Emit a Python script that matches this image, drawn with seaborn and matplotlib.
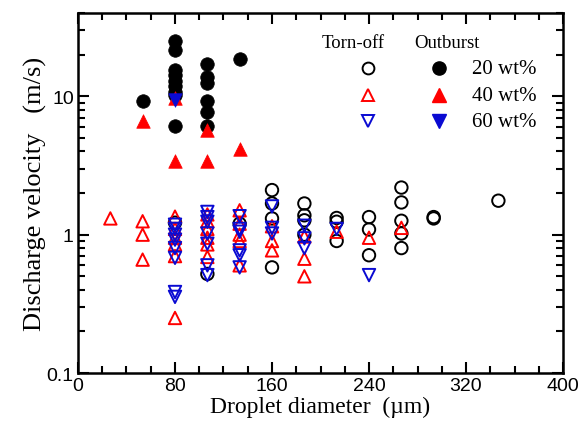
import pandas as pd
import numpy as np
import matplotlib
matplotlib.use("Agg")
import matplotlib.pyplot as plt
from matplotlib.ticker import FixedLocator, LogLocator, NullFormatter
import seaborn as sns

# torn-off (open symbols)
torn20_d = [80, 106.7, 133.3, 160, 160, 160, 160, 186.7, 186.7, 186.7, 186.7,
            213.3, 213.3, 213.3, 240, 240, 240, 266.7, 266.7, 266.7, 266.7, 266.7,
            293.3, 293.3, 346.7]
torn20_v = [1.22, 0.52, 1.2, 2.1, 1.68, 1.31, 0.58, 1.68, 1.38, 1.27, 1.0,
            1.32, 1.24, 0.9, 1.34, 1.09, 0.71, 2.19, 1.71, 1.26, 1.02, 0.8,
            1.34, 1.31, 1.76]

torn40_d = [26.7, 53.3, 53.3, 53.3, 80, 80, 80, 80, 80, 80,
            106.7, 106.7, 106.7, 106.7, 106.7, 106.7,
            133.3, 133.3, 133.3, 133.3, 133.3, 160, 160, 160,
            186.7, 186.7, 186.7, 213.3, 240, 266.7]
torn40_v = [1.31, 1.25, 1.0, 0.66, 1.35, 1.1, 0.95, 0.85, 0.7, 0.25,
            1.4, 1.25, 1.1, 0.95, 0.85, 0.69,
            1.5, 1.2, 1.0, 0.9, 0.6, 1.15, 0.9, 0.77,
            0.97, 0.67, 0.5, 1.05, 0.95, 1.12]

torn60_d = [80, 80, 80, 80, 80, 80, 80, 80,
            106.7, 106.7, 106.7, 106.7, 106.7, 106.7, 106.7,
            133.3, 133.3, 133.3, 133.3, 133.3, 133.3,
            160, 160, 160, 186.7, 186.7, 186.7, 213.3, 240]
torn60_v = [1.18, 1.1, 1.0, 0.92, 0.8, 0.68, 0.385, 0.355,
            1.46, 1.34, 1.24, 1.02, 0.86, 0.6, 0.51,
            1.36, 1.1, 1.05, 0.77, 0.71, 0.58,
            1.6, 1.12, 1.02, 1.16, 0.94, 0.8, 1.1, 0.51]

# outburst (filled symbols)
out20_d = [53.3, 80, 80, 80, 80, 80, 80, 80, 80, 80,
           106.7, 106.7, 106.7, 106.7, 106.7, 106.7, 133.3]
out20_v = [9.2, 25.0, 21.7, 15.5, 14.2, 12.9, 11.8, 10.8, 10.2, 6.1,
           17.1, 13.7, 12.4, 9.3, 7.75, 6.1, 18.5]

out40_d = [53.3, 80, 80, 106.7, 106.7, 133.3]
out40_v = [6.6, 9.7, 3.4, 5.7, 3.4, 4.15]

out60_d = [80]
out60_v = [9.4]

x_ticks = [0, 80, 160, 240, 320, 400]
y_ticks = [0.1, 1, 10]
y_labels = ["0.1", "1", "10"]
conc_labels = ["20 wt%", "40 wt%", "60 wt%"]

frames = []
for mode, conc, d, v in [("torn", 20, torn20_d, torn20_v), ("torn", 40, torn40_d, torn40_v),
                         ("torn", 60, torn60_d, torn60_v), ("out", 20, out20_d, out20_v),
                         ("out", 40, out40_d, out40_v), ("out", 60, out60_d, out60_v)]:
    frames.append(pd.DataFrame({"diameter": d, "velocity": v, "mode": mode, "conc": conc}))
df = pd.concat(frames, ignore_index=True)

sns.set_style("ticks", {"axes.edgecolor": "black", "xtick.color": "black",
                        "ytick.color": "black", "text.color": "black",
                        "axes.labelcolor": "black"})
plt.rcParams["font.family"] = ["Liberation Sans", "DejaVu Sans"]

colors = {20: "black", 40: "#ff0000", 60: "#0a0ad2"}
markers = {20: "o", 40: "^", 60: "v"}

fig = plt.figure(figsize=(5.79, 4.35), dpi=100)
ax = fig.add_axes([0.1347, 0.1402, 0.8377, 0.8276])

for (mode, conc), g in df.groupby(["mode", "conc"], sort=False):
    c = colors[conc]
    if mode == "torn":
        sns.scatterplot(data=g, x="diameter", y="velocity", ax=ax, marker=markers[conc],
                        s=80, facecolor="none", edgecolor=c, linewidth=1.4, zorder=3)
    else:
        sns.scatterplot(data=g, x="diameter", y="velocity", ax=ax, marker=markers[conc],
                        s=95, color=c, edgecolor=c, linewidth=0.5, zorder=4)

ax.set_yscale("log")
ax.set_xlim(0, 400)
ax.set_ylim(0.1, 40)
ax.xaxis.set_major_locator(FixedLocator(x_ticks))
ax.xaxis.set_minor_locator(FixedLocator(np.arange(0, 401, 20)))
ax.yaxis.set_major_locator(FixedLocator(y_ticks))
ax.set_yticklabels(y_labels)
ax.yaxis.set_minor_locator(LogLocator(base=10, subs=np.arange(2, 10)))
ax.yaxis.set_minor_formatter(NullFormatter())
ax.tick_params(which="both", direction="in", top=True, right=True, width=1.5,
               labelsize=14, pad=3, colors="black")
ax.tick_params(which="major", length=8)
ax.tick_params(which="minor", length=5)
for s in ax.spines.values():
    s.set_linewidth(1.8)
    s.set_color("black")
    s.set_visible(True)

serif = ["Liberation Serif", "DejaVu Serif"]
ax.set_xlabel("Droplet diameter  (\u00b5m)", family=serif, fontsize=17, labelpad=1, color="black")
ax.set_ylabel("Discharge velocity   (m/s)", family=serif, fontsize=19, labelpad=0, color="black")

# hand-made legend
tr = ax.transAxes
ax.text(0.567, 0.917, "Torn-off", transform=tr, family=serif, fontsize=13.5,
        ha="center", va="center", color="black")
ax.text(0.761, 0.917, "Outburst", transform=tr, family=serif, fontsize=13.5,
        ha="center", va="center", color="black")
for i, conc in enumerate([20, 40, 60]):
    yy = [0.847, 0.772, 0.700][i]
    c = colors[conc]
    ax.plot([0.598], [yy], transform=tr, marker=markers[conc], ms=8.5, mfc="none",
            mec=c, mew=1.4, ls="none", clip_on=False)
    ax.plot([0.744], [yy], transform=tr, marker=markers[conc], ms=9.5, mfc=c,
            mec=c, ls="none", clip_on=False)
    ax.text(0.812, yy, conc_labels[i], transform=tr, family=serif, fontsize=15,
            ha="left", va="center", color="black")

fig.savefig("out.png", dpi=100)
